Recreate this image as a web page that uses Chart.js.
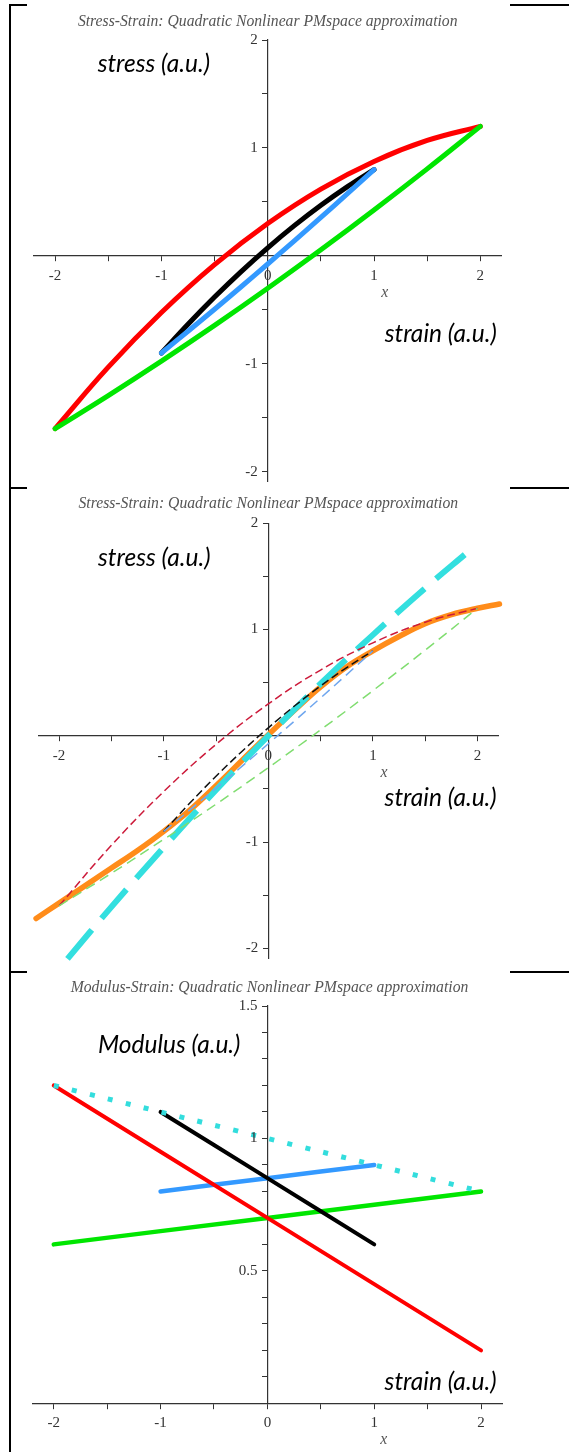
<!DOCTYPE html>
<html>
<head>
<meta charset="utf-8">
<script src="https://cdn.jsdelivr.net/npm/chart.js@4"></script>
<style>
  body { margin: 0; background: #fff; }
  #page { position: relative; width: 569px; height: 1452px; overflow: hidden; background: #fff; }
  .box { position: absolute; left: 0; width: 569px; }
  .rule { position: absolute; background: #000; }
</style>
</head>
<body>
<div id="page">
  <div class="rule" style="left:9px; top:4px; width:2px; height:1448px"></div>
  <div class="rule" style="left:9px; top:4px; width:18px; height:2px"></div>
  <div class="rule" style="left:510px; top:4px; width:59px; height:2px"></div>
  <div class="rule" style="left:9px; top:487px; width:18px; height:2px"></div>
  <div class="rule" style="left:510px; top:487px; width:59px; height:2px"></div>
  <div class="rule" style="left:9px; top:971px; width:18px; height:2px"></div>
  <div class="rule" style="left:510px; top:971px; width:59px; height:2px"></div>
  <div class="box" style="top:0px; height:520px"><canvas id="c1"></canvas></div>
  <div class="box" style="top:488px; height:500px"><canvas id="c2"></canvas></div>
  <div class="box" style="top:972px; height:480px"><canvas id="c3"></canvas></div>
</div>
<script>
// ---- data ----
// stress-strain curves (panels 1 and 2)
const strainWide = [-2, -1.5, -1, -0.5, 0, 0.5, 1, 1.5, 2];
const redStress = [-1.6, -1.031, -0.525, -0.081, 0.3, 0.619, 0.875, 1.069, 1.2];
const greenStress = [-1.6, -1.294, -0.975, -0.644, -0.3, 0.056, 0.425, 0.806, 1.2];
const strainNarrow = [-1, -0.75, -0.5, -0.25, 0, 0.25, 0.5, 0.75, 1];
const blackStress = [-0.9, -0.633, -0.381, -0.145, 0.075, 0.28, 0.469, 0.642, 0.8];
const blueStress = [-0.9, -0.698, -0.494, -0.286, -0.075, 0.139, 0.356, 0.576, 0.8];

// panel 2 extras
const orangeStrain = [-2.22, -2, -1.75, -1.5, -1.25, -1, -0.75, -0.5, -0.25, 0, 0.25, 0.5, 0.75, 1, 1.25, 1.5, 1.75, 2, 2.21];
const orangeStress = [-1.72, -1.575, -1.41, -1.245, -1.08, -0.9, -0.7, -0.47, -0.23, 0.01, 0.24, 0.46, 0.65, 0.8, 0.935, 1.055, 1.14, 1.2, 1.24];
const cyanStrain = [-1.92, -1.5, -1, -0.5, 0, 0.5, 1, 1.5, 1.92];
const cyanStress = [-2.1, -1.61, -1.05, -0.51, 0, 0.49, 0.95, 1.39, 1.74];

// modulus-strain lines (panel 3)
const strain3Wide = [-2, 0, 2];
const strain3Narrow = [-1, 0, 1];
const cyanModulus = [1.2, 1.0, 0.8];
const redModulus = [1.2, 0.7, 0.2];
const greenModulus = [0.6, 0.7, 0.8];
const blackModulus = [1.1, 0.85, 0.6];
const blueModulus = [0.8, 0.85, 0.9];

// ticks
const xTicks = [-2, -1.5, -1, -0.5, 0, 0.5, 1, 1.5, 2];
const xLabels = [-2, -1, 0, 1, 2];
const stressTicks = [-2, -1.5, -1, -0.5, 0.5, 1, 1.5, 2];
const stressLabels = [-2, -1, 1, 2];
const modulusTicks = [0.1, 0.2, 0.3, 0.4, 0.5, 0.6, 0.7, 0.8, 0.9, 1, 1.1, 1.2, 1.3, 1.4, 1.5];
const modulusLabels = [0.5, 1, 1.5];

const title1 = 'Stress-Strain: Quadratic Nonlinear PMspace approximation';
const title3 = 'Modulus-Strain: Quadratic Nonlinear PMspace approximation';

// ---- styling ----
const serif = '"Liberation Serif", "Times New Roman", serif';
const tickFont = { family: serif, size: 15 };
const tickFontCss = '15px ' + serif;
const titleFont = 'italic 15.7px ' + serif;
const noteFont = 'italic 24.5px Lato, "Open Sans", sans-serif';

function line(xs, ys, color, width, dash) {
  return {
    data: xs.map((v, i) => ({ x: v, y: ys[i] })),
    borderColor: color,
    borderWidth: width,
    borderDash: dash || [],
    borderCapStyle: dash ? 'butt' : 'round',
    borderJoinStyle: 'round',
    showLine: true,
    pointRadius: 0,
    fill: false,
    tension: 0.4,
    clip: false
  };
}

function scale(min, max, pos, ticks, labels, showLabels) {
  return {
    type: 'linear',
    min: min,
    max: max,
    position: pos,
    afterBuildTicks: s => { s.ticks = ticks.map(v => ({ value: v })); },
    ticks: {
      display: showLabels,
      autoSkip: false,
      maxRotation: 0,
      padding: 6,
      color: '#333',
      font: tickFont,
      callback: v => labels.includes(v) ? String(v) : ''
    },
    grid: { drawOnChartArea: false, drawTicks: true, tickLength: 5, tickColor: '#333', tickWidth: 1 },
    border: { display: true, color: '#333', width: 1.2 }
  };
}

// texts placed in data coordinates, plus the y tick labels left of the centred axis
function notes(items, yLabels) {
  return {
    id: 'notes',
    afterDraw(chart) {
      const { ctx, scales } = chart;
      ctx.save();
      ctx.font = tickFontCss;
      ctx.fillStyle = '#333';
      ctx.textAlign = 'right';
      ctx.textBaseline = 'middle';
      const axisX = scales.x.getPixelForValue(0);
      yLabels.forEach(v => {
        ctx.fillText(String(v), axisX - 10, scales.y.getPixelForValue(v));
      });
      items.forEach(n => {
        ctx.font = n.font;
        ctx.fillStyle = n.color;
        ctx.textAlign = n.align;
        ctx.textBaseline = n.base;
        ctx.fillText(n.text, scales.x.getPixelForValue(n.at[0]), scales.y.getPixelForValue(n.at[1]));
      });
      ctx.restore();
    }
  };
}

function makeChart(id, datasets, scales, padding, items, yLabels) {
  return new Chart(document.getElementById(id), {
    type: 'scatter',
    data: { datasets: datasets },
    options: {
      responsive: true,
      maintainAspectRatio: false,
      animation: false,
      events: [],
      layout: { padding: padding },
      plugins: { legend: { display: false }, tooltip: { enabled: false } },
      scales: scales
    },
    plugins: [notes(items, yLabels)]
  });
}

function build() {
  // Panel 1: stress-strain
  makeChart('c1', [
    line(strainNarrow, blueStress, '#3399ff', 5),
    line(strainNarrow, blackStress, '#000000', 5),
    line(strainWide, greenStress, '#00e600', 5),
    line(strainWide, redStress, '#ff0000', 5)
  ], {
    x: scale(-2.2, 2.2, { y: 0 }, xTicks, xLabels, true),
    y: scale(-2.09, 2, { x: 0 }, stressTicks, stressLabels, false)
  }, { left: 33.85, right: 67.4, top: 40, bottom: 38.5 }, [
    { text: title1, at: [0, 2.17], font: titleFont, color: '#555', align: 'center', base: 'middle' },
    { text: 'stress (a.u.)', at: [-1.6, 1.7], font: noteFont, color: '#000', align: 'left', base: 'alphabetic' },
    { text: 'strain (a.u.)', at: [1.1, -0.8], font: noteFont, color: '#000', align: 'left', base: 'alphabetic' },
    { text: 'x', at: [1.1, -0.346], font: titleFont, color: '#555', align: 'center', base: 'middle' }
  ], stressLabels);

  // Panel 2: stress-strain with PMspace approximation
  makeChart('c2', [
    line(strainNarrow, blueStress, '#6fa6ee', 1.5, [10, 6]),
    line(strainNarrow, blackStress, '#111111', 1.5, [8, 4]),
    line(strainWide, greenStress, '#80dd70', 1.5, [10, 6]),
    line(strainWide, redStress, '#cc1a3a', 1.5, [8, 4]),
    line(cyanStrain, cyanStress, '#33dfdf', 6, [38, 15]),
    line(orangeStrain, orangeStress, '#ff8c1a', 5.5)
  ], {
    x: scale(-2.2, 2.2, { y: 0 }, xTicks, xLabels, true),
    y: scale(-2.1, 2, { x: 0 }, stressTicks, stressLabels, false)
  }, { left: 38.2, right: 70.6, top: 35.3, bottom: 29.1 }, [
    { text: title1, at: [0, 2.182], font: titleFont, color: '#555', align: 'center', base: 'middle' },
    { text: 'stress (a.u.)', at: [-1.628, 1.598], font: noteFont, color: '#000', align: 'left', base: 'alphabetic' },
    { text: 'strain (a.u.)', at: [1.112, -0.661], font: noteFont, color: '#000', align: 'left', base: 'alphabetic' },
    { text: 'x', at: [1.105, -0.353], font: titleFont, color: '#555', align: 'center', base: 'middle' }
  ], stressLabels);

  // Panel 3: modulus-strain
  makeChart('c3', [
    line(strain3Wide, cyanModulus, '#33dddd', 5, [5, 13.5]),
    line(strain3Narrow, blackModulus, '#000000', 4),
    line(strain3Wide, redModulus, '#ff0000', 4),
    line(strain3Narrow, blueModulus, '#3399ff', 4.5),
    line(strain3Wide, greenModulus, '#00e600', 4.5)
  ], {
    x: scale(-2.2, 2.2, { y: 0 }, xTicks, xLabels, true),
    y: scale(0, 1.5, { x: 0 }, modulusTicks, modulusLabels, false)
  }, { left: 32.4, right: 66.6, top: 34, bottom: 48.7 }, [
    { text: title3, at: [0.02, 1.57], font: titleFont, color: '#555', align: 'center', base: 'middle' },
    { text: 'Modulus (a.u.)', at: [-1.586, 1.321], font: noteFont, color: '#000', align: 'left', base: 'alphabetic' },
    { text: 'strain (a.u.)', at: [1.097, 0.05], font: noteFont, color: '#000', align: 'left', base: 'alphabetic' },
    { text: 'x', at: [1.09, -0.139], font: titleFont, color: '#555', align: 'center', base: 'middle' }
  ], modulusLabels);
}

Promise.all([
  document.fonts.load(noteFont, 'stress'),
  document.fonts.load(titleFont, 'Stress')
]).then(build, build);
</script>
</body>
</html>
